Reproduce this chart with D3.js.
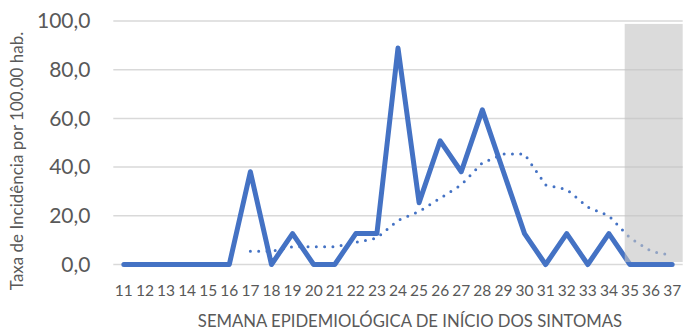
<!DOCTYPE html>
<html>
<head>
<meta charset="utf-8">
<script src="https://cdn.jsdelivr.net/npm/d3@7"></script>
<style>
  html, body { margin: 0; padding: 0; background: #ffffff; }
  svg { display: block; }
</style>
</head>
<body>
<svg id="chart" width="685" height="329"></svg>
<script>
// Epidemiological weeks (onset of symptoms)
const weeks = ["11","12","13","14","15","16","17","18","19","20","21","22","23","24",
               "25","26","27","28","29","30","31","32","33","34","35","36","37"];
// Incidence rate per 100.000 inhabitants
const incidence = [0, 0, 0, 0, 0, 0, 38.1, 0, 12.7, 0, 0, 12.7, 12.7, 88.9,
                   25.4, 50.8, 38.1, 63.5, 38.1, 12.7, 0, 12.7, 0, 12.7, 0, 0, 0];
// 7-week moving average (from week 17 on)
const movingAvgWeeks = ["17","18","19","20","21","22","23","24","25","26","27",
                        "28","29","30","31","32","33","34","35","36","37"];
const movingAvg = [5.44, 5.44, 7.26, 7.26, 7.26, 9.07, 10.89, 18.14, 21.77, 27.21, 32.66,
                   41.73, 45.36, 45.36, 32.66, 30.84, 23.59, 19.96, 10.89, 5.44, 3.63];
// Y axis ticks
const yTicks = [0, 20, 40, 60, 80, 100];
// Weeks still under investigation (shaded)
const shadedWeeks = ["35", "37"];

const svg = d3.select("#chart");
const plot = { left: 113.3, right: 682.7, top: 21, bottom: 264.5 };

const x = d3.scaleBand().domain(weeks).range([plot.left, plot.right]).padding(0);
const y = d3.scaleLinear().domain([0, 100]).range([plot.bottom, plot.top]);
const cx = w => x(w) + x.bandwidth() / 2;

// Gridlines
svg.append("g")
  .selectAll("line")
  .data(yTicks)
  .join("line")
  .attr("x1", plot.left).attr("x2", plot.right)
  .attr("y1", d => y(d)).attr("y2", d => y(d))
  .attr("stroke", "#d9d9d9").attr("stroke-width", 1.5);

// Y axis labels
const yAxis = d3.axisLeft(y).tickValues(yTicks)
  .tickFormat(d => d3.format(".1f")(d).replace(".", ","))
  .tickSize(0).tickPadding(0);
svg.append("g")
  .attr("transform", `translate(90.5,0)`)
  .call(yAxis)
  .call(g => g.select(".domain").remove())
  .call(g => g.selectAll("text")
    .attr("font-family", "Lato, sans-serif")
    .attr("font-size", 21)
    .attr("fill", "#595959"));

// X axis labels
const xAxis = d3.axisBottom(x).tickSize(0).tickPadding(0);
svg.append("g")
  .attr("transform", `translate(0,285)`)
  .call(xAxis)
  .call(g => g.select(".domain").remove())
  .call(g => g.selectAll("text")
    .attr("font-family", "Lato, sans-serif")
    .attr("font-size", 15.5)
    .attr("fill", "#595959"));

// Solid incidence line
const line = d3.line().x((d, i) => cx(weeks[i])).y(d => y(d));
svg.append("path")
  .datum(incidence)
  .attr("d", line)
  .attr("fill", "none")
  .attr("stroke", "#4472c4")
  .attr("stroke-width", 5)
  .attr("stroke-linejoin", "round")
  .attr("stroke-linecap", "round");

// Dotted moving-average trend
const avgLine = d3.line().x((d, i) => cx(movingAvgWeeks[i])).y(d => y(d));
svg.append("path")
  .datum(movingAvg)
  .attr("d", avgLine)
  .attr("fill", "none")
  .attr("stroke", "#4472c4")
  .attr("stroke-width", 3)
  .attr("stroke-dasharray", "0 8.3")
  .attr("stroke-linecap", "round");

// Shaded block over the most recent weeks
const shadeX0 = x(shadedWeeks[0]) + x.bandwidth() * 0.25;
svg.append("rect")
  .attr("x", shadeX0)
  .attr("y", y(98.8))
  .attr("width", plot.right - shadeX0)
  .attr("height", y(1) - y(98.8))
  .attr("fill", "#c3c3c3")
  .attr("fill-opacity", 0.6);

// Axis titles
svg.append("text")
  .attr("transform", `translate(23,161) rotate(-90)`)
  .attr("text-anchor", "middle")
  .attr("font-family", "Lato, sans-serif")
  .attr("font-size", 17)
  .attr("fill", "#595959")
  .text("Taxa de Incidência por 100.00 hab.");

svg.append("text")
  .attr("x", 410)
  .attr("y", 326.5)
  .attr("text-anchor", "middle")
  .attr("font-family", "Lato, sans-serif")
  .attr("font-size", 16.7)
  .attr("fill", "#595959")
  .text("SEMANA EPIDEMIOLÓGICA DE INÍCIO DOS SINTOMAS");
</script>
</body>
</html>
